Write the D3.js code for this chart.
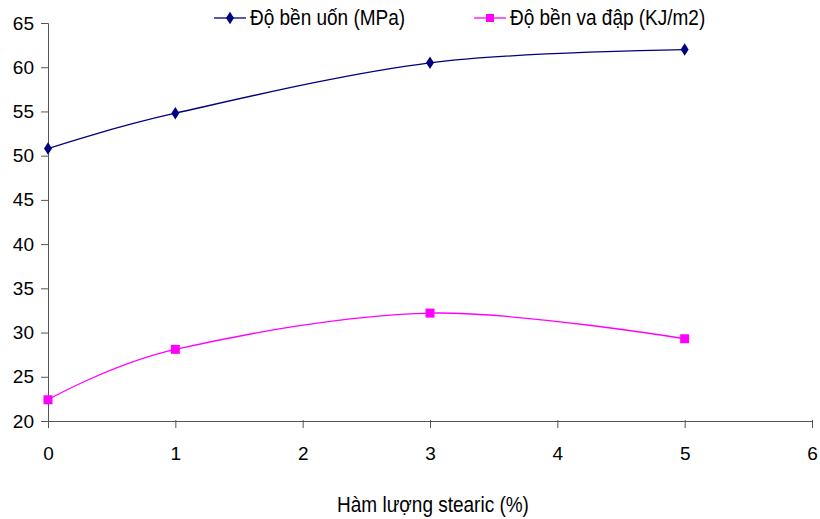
<!DOCTYPE html>
<html>
<head>
<meta charset="utf-8">
<script src="https://cdn.jsdelivr.net/npm/d3@7"></script>
<style>
  body { margin: 0; background: #fff; }
  text { font-family: "Liberation Sans", Arial, sans-serif; fill: #000; }
</style>
</head>
<body>
<div id="chart"></div>
<script>
const xValues = [0, 1, 3, 5];
const flexural = [50.8, 54.8, 60.5, 62.0];
const impact = [22.4, 28.1, 32.2, 29.3];
const xTicks = [0, 1, 2, 3, 4, 5, 6];
const yTicks = [20, 25, 30, 35, 40, 45, 50, 55, 60, 65];
const seriesNames = ["Độ bền uốn (MPa)", "Độ bền va đập (KJ/m2)"];
const xTitle = "Hàm lượng stearic (%)";

const width = 820, height = 519;
const margin = { left: 48, right: 8, top: 23, bottom: 98 };
const fontSize = "19px";

const svg = d3.select("#chart").append("svg")
  .attr("width", width)
  .attr("height", height);

const x = d3.scaleLinear().domain([0, 6]).range([margin.left, width - margin.right]);
const y = d3.scaleLinear().domain([20, 65]).range([height - margin.bottom, margin.top]);

const axisColor = "#555";

// y axis
const yAxis = svg.append("g")
  .attr("transform", `translate(${margin.left},0)`)
  .call(d3.axisLeft(y).tickValues(yTicks).tickSize(7).tickPadding(7).tickFormat(d3.format("d")));
yAxis.select(".domain").attr("stroke", axisColor);
yAxis.selectAll(".tick line").attr("stroke", axisColor);
yAxis.selectAll("text").style("font-size", fontSize).attr("fill", "#000");

// x axis
const xAxis = svg.append("g")
  .attr("transform", `translate(0,${y(20)})`)
  .call(d3.axisBottom(x).tickValues(xTicks).tickSizeInner(7).tickSizeOuter(0).tickPadding(19).tickFormat(d3.format("d")));
xAxis.select(".domain").attr("stroke", axisColor);
xAxis.selectAll(".tick line").attr("stroke", axisColor).attr("y1", -1);
xAxis.selectAll("text").style("font-size", fontSize).attr("fill", "#000");

svg.append("text")
  .attr("transform", "translate(433,512) scale(1,1.2)")
  .attr("text-anchor", "middle")
  .style("font-size", fontSize)
  .text(xTitle);

const line = d3.line().curve(d3.curveCatmullRom.alpha(0)).x(d => x(d[0])).y(d => y(d[1]));
const diamond = d3.symbol().type(d3.symbolDiamond).size(50);

// flexural series
const flexPts = xValues.map((v, i) => [v, flexural[i]]);
svg.append("path").datum(flexPts)
  .attr("d", line).attr("fill", "none").attr("stroke", "#000080").attr("stroke-width", 1.3);
svg.selectAll("path.dia").data(flexPts).join("path")
  .attr("class", "dia")
  .attr("d", diamond)
  .attr("transform", d => `translate(${x(d[0])},${y(d[1])}) scale(1.05,0.95)`)
  .attr("fill", "#000080");

// impact series
const impPts = xValues.map((v, i) => [v, impact[i]]);
svg.append("path").datum(impPts)
  .attr("d", line).attr("fill", "none").attr("stroke", "#ff00ff").attr("stroke-width", 1.3);
svg.selectAll("rect.sq").data(impPts).join("rect")
  .attr("class", "sq")
  .attr("x", d => x(d[0]) - 4.5).attr("y", d => y(d[1]) - 4.5)
  .attr("width", 9).attr("height", 9)
  .attr("fill", "#ff00ff");

// legend
const legend = svg.append("g");
const l1 = legend.append("g").attr("transform", "translate(214,18)");
l1.append("line").attr("x1", 0).attr("x2", 32).attr("stroke", "#000080").attr("stroke-width", 1.3);
l1.append("path").attr("d", diamond).attr("transform", "translate(16,0) scale(1.05,0.95)").attr("fill", "#000080");
l1.append("text").attr("transform", "translate(36,7) scale(1,1.12)").style("font-size", fontSize).text(seriesNames[0]);

const l2 = legend.append("g").attr("transform", "translate(474,18)");
l2.append("line").attr("x1", 0).attr("x2", 32).attr("stroke", "#ff00ff").attr("stroke-width", 1.3);
l2.append("rect").attr("x", 12).attr("y", -4).attr("width", 8).attr("height", 8).attr("fill", "#ff00ff");
l2.append("text").attr("transform", "translate(36,7) scale(1,1.12)").style("font-size", fontSize).text(seriesNames[1]);
</script>
</body>
</html>
